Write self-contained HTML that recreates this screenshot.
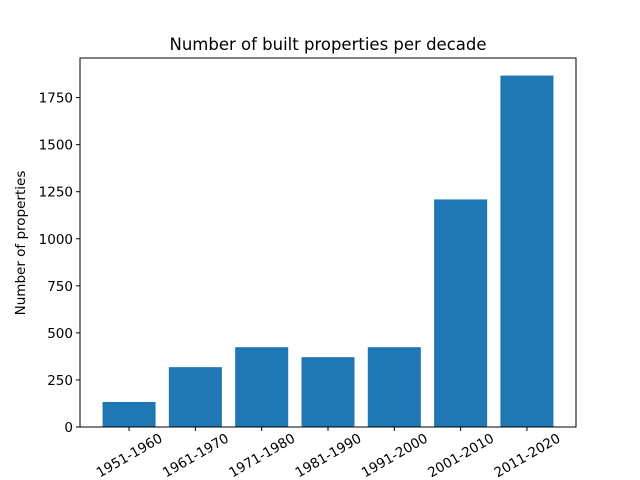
<!DOCTYPE html>
<html><head><meta charset="utf-8"><style>body{margin:0;background:#fff}svg{display:block;font-family:"DejaVu Sans","Liberation Sans",sans-serif}</style></head>
<body>
<svg id="chart" width="640" height="480">
<rect width="640" height="480" fill="#fff"/>
<text x="328" y="50" text-anchor="middle" font-size="16.5">Number of built properties per decade</text>
<text transform="translate(25,243) rotate(-90)" text-anchor="middle" font-size="13.5">Number of properties</text>
<g id="bars"></g><g id="yt"></g><g id="xt"></g>
<rect x="80" y="58" width="496" height="369" fill="none" stroke="#000" stroke-width="1"/>
</svg>
<script>
const categories=["1951-1960","1961-1970","1971-1980","1981-1990","1991-2000","2001-2010","2011-2020"];
const values=[133,318,424,371,424,1209,1867];
const yTicks=[0,250,500,750,1000,1250,1500,1750];
const NS="http://www.w3.org/2000/svg";
const L=80,R=576,T=58,B=427;
const xMin=-0.74,xMax=6.74,yMax=1867*1.05;
const x=v=>L+(v-xMin)/(xMax-xMin)*(R-L);
const y=v=>B-v/yMax*(B-T);
function mk(t,a,p){const e=document.createElementNS(NS,t);for(const k in a)e.setAttribute(k,a[k]);p.appendChild(e);return e;}
const gb=document.getElementById('bars'),gy=document.getElementById('yt'),gx=document.getElementById('xt');
values.forEach((v,i)=>{
 const r=mk('rect',{x:x(i-0.4),y:y(v),width:x(i+0.4)-x(i-0.4),height:B-y(v),fill:'#1f77b4'},gb);
 
 
 mk('line',{x1:x(i),x2:x(i),y1:B,y2:B+4,stroke:'#000'},gx);
 const t=mk('text',{x:x(i),y:460,'text-anchor':'middle','font-size':'13.5',transform:`rotate(-30 ${x(i)} 455)`},gx);
 t.textContent=categories[i];
 
 
});
yTicks.forEach(v=>{
 mk('line',{x1:L-4,x2:L,y1:y(v),y2:y(v),stroke:'#000'},gy);
 const t=mk('text',{x:L-7,y:y(v)+5,'text-anchor':'end','font-size':'13.5'},gy);
 t.textContent=v;
 
 
});
</script>
</body></html>
